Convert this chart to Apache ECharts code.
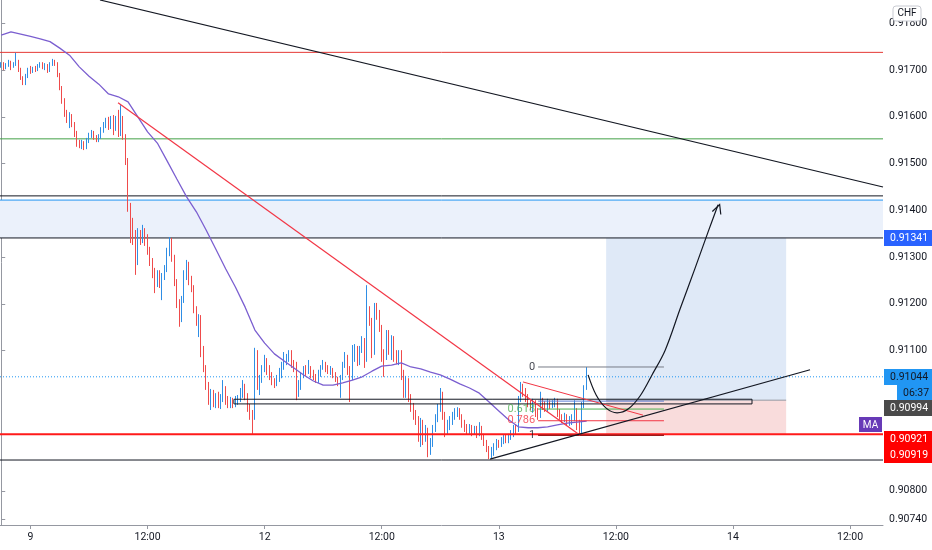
<!DOCTYPE html>
<html><head><meta charset="utf-8">
<script src="https://cdn.jsdelivr.net/npm/echarts@6/dist/echarts.min.js"></script>
<style>html,body{margin:0;padding:0;background:#fff}#c{width:932px;height:550px}</style>
</head><body><div id="c"></div>
<script>
// ---- data (15-minute candles: [open, close, low, high]) ----
const candles = [
[0.91709,0.91713,0.91705,0.91717],[0.91713,0.91707,0.91700,0.91717],[0.91707,0.91711,0.91702,0.91715],[0.91711,0.91715,0.91707,0.91722],
[0.91715,0.91707,0.91700,0.91720],[0.91707,0.91713,0.91705,0.91717],[0.91713,0.91717,0.91709,0.91737],[0.91717,0.91700,0.91696,0.91722],
[0.91700,0.91683,0.91679,0.91705],[0.91683,0.91672,0.91668,0.91687],[0.91672,0.91687,0.91668,0.91692],[0.91687,0.91700,0.91683,0.91705],
[0.91700,0.91696,0.91692,0.91709],[0.91696,0.91702,0.91694,0.91707],[0.91702,0.91700,0.91696,0.91709],[0.91700,0.91707,0.91698,0.91713],
[0.91707,0.91713,0.91705,0.91717],[0.91713,0.91707,0.91702,0.91717],[0.91707,0.91709,0.91700,0.91715],[0.91709,0.91698,0.91694,0.91713],
[0.91698,0.91713,0.91696,0.91717],[0.91713,0.91717,0.91709,0.91724],[0.91717,0.91713,0.91709,0.91722],[0.91713,0.91690,0.91685,0.91717],
[0.91690,0.91662,0.91657,0.91694],[0.91662,0.91636,0.91628,0.91666],[0.91636,0.91608,0.91600,0.91640],[0.91608,0.91593,0.91587,0.91615],
[0.91593,0.91602,0.91576,0.91610],[0.91602,0.91583,0.91578,0.91606],[0.91583,0.91563,0.91557,0.91589],[0.91563,0.91544,0.91536,0.91570],
[0.91544,0.91538,0.91533,0.91551],[0.91538,0.91544,0.91531,0.91551],[0.91544,0.91536,0.91529,0.91548],[0.91536,0.91548,0.91531,0.91555],
[0.91548,0.91559,0.91544,0.91566],[0.91559,0.91566,0.91555,0.91572],[0.91566,0.91555,0.91551,0.91570],[0.91555,0.91551,0.91546,0.91561],
[0.91551,0.91557,0.91546,0.91563],[0.91557,0.91570,0.91553,0.91578],[0.91570,0.91580,0.91566,0.91589],[0.91580,0.91591,0.91576,0.91598],
[0.91591,0.91578,0.91572,0.91600],[0.91578,0.91593,0.91574,0.91602],[0.91593,0.91576,0.91561,0.91604],[0.91576,0.91595,0.91570,0.91602],
[0.91595,0.91583,0.91557,0.91615],[0.91583,0.91598,0.91559,0.91625],[0.91598,0.91559,0.91551,0.91602],[0.91559,0.91508,0.91497,0.91563],
[0.91508,0.91401,0.91397,0.91512],[0.91401,0.91373,0.91330,0.91416],[0.91373,0.91341,0.91326,0.91384],[0.91341,0.91290,0.91262,0.91358],
[0.91290,0.91347,0.91283,0.91362],[0.91347,0.91337,0.91326,0.91358],[0.91337,0.91358,0.91330,0.91369],[0.91358,0.91341,0.91324,0.91362],
[0.91341,0.91315,0.91305,0.91349],[0.91315,0.91290,0.91281,0.91322],[0.91290,0.91268,0.91255,0.91298],[0.91268,0.91251,0.91223,0.91277],
[0.91251,0.91266,0.91236,0.91272],[0.91266,0.91243,0.91234,0.91272],[0.91243,0.91260,0.91208,0.91266],[0.91260,0.91277,0.91251,0.91283],
[0.91277,0.91311,0.91268,0.91320],[0.91311,0.91337,0.91302,0.91343],[0.91337,0.91298,0.91290,0.91341],[0.91298,0.91247,0.91238,0.91305],
[0.91247,0.91204,0.91191,0.91253],[0.91204,0.91170,0.91151,0.91210],[0.91170,0.91208,0.91161,0.91217],[0.91208,0.91262,0.91202,0.91272],
[0.91262,0.91283,0.91251,0.91294],[0.91283,0.91251,0.91240,0.91290],[0.91251,0.91234,0.91225,0.91260],[0.91234,0.91187,0.91180,0.91240],
[0.91187,0.91161,0.91153,0.91195],[0.91161,0.91170,0.91129,0.91178],[0.91170,0.91101,0.91086,0.91176],[0.91101,0.91063,0.91054,0.91110],
[0.91063,0.91026,0.91016,0.91069],[0.91026,0.90999,0.90984,0.91033],[0.90999,0.91012,0.90973,0.91018],[0.91012,0.90990,0.90979,0.91016],
[0.90990,0.91003,0.90977,0.91009],[0.91003,0.90986,0.90977,0.91012],[0.90986,0.90999,0.90975,0.91007],[0.90999,0.91016,0.90990,0.91037],
[0.91016,0.90994,0.90984,0.91024],[0.90994,0.90984,0.90977,0.91003],[0.90984,0.90994,0.90977,0.91001],[0.90994,0.90984,0.90977,0.90999],
[0.90984,0.90994,0.90979,0.91003],[0.90994,0.90999,0.90984,0.91005],[0.90999,0.91012,0.90990,0.91020],[0.91012,0.91024,0.90999,0.91037],
[0.91024,0.91005,0.90994,0.91029],[0.91005,0.90979,0.90969,0.91009],[0.90979,0.90962,0.90952,0.90986],[0.90962,0.90956,0.90922,0.90973],
[0.90956,0.91097,0.90952,0.91106],[0.91097,0.91026,0.91016,0.91101],[0.91026,0.91041,0.91005,0.91048],[0.91041,0.91063,0.91031,0.91069],
[0.91063,0.91080,0.91054,0.91091],[0.91080,0.91054,0.91048,0.91084],[0.91054,0.91044,0.91037,0.91069],[0.91044,0.91033,0.91026,0.91054],
[0.91033,0.91029,0.91020,0.91041],[0.91029,0.91041,0.91024,0.91048],[0.91041,0.91054,0.91033,0.91063],[0.91054,0.91067,0.91041,0.91076],
[0.91067,0.91080,0.91059,0.91097],[0.91080,0.91084,0.91069,0.91093],[0.91084,0.91091,0.91076,0.91101],[0.91091,0.91069,0.91063,0.91101],
[0.91069,0.91063,0.91054,0.91080],[0.91063,0.91016,0.90994,0.91076],[0.91016,0.91026,0.91001,0.91037],[0.91026,0.91048,0.91016,0.91054],
[0.91048,0.91059,0.91041,0.91067],[0.91059,0.91054,0.91046,0.91069],[0.91054,0.91063,0.91050,0.91080],[0.91063,0.91048,0.91041,0.91067],
[0.91048,0.91041,0.91037,0.91059],[0.91041,0.91035,0.91031,0.91050],[0.91035,0.91050,0.91031,0.91059],[0.91050,0.91063,0.91044,0.91069],
[0.91063,0.91071,0.91059,0.91080],[0.91071,0.91063,0.91054,0.91076],[0.91063,0.91054,0.91050,0.91069],[0.91054,0.91059,0.91048,0.91067],
[0.91059,0.91046,0.91041,0.91063],[0.91046,0.91037,0.91033,0.91054],[0.91037,0.91029,0.91024,0.91044],[0.91029,0.91041,0.90999,0.91048],
[0.91041,0.91067,0.91037,0.91076],[0.91067,0.91084,0.91063,0.91097],[0.91084,0.91059,0.91048,0.91091],[0.91059,0.91041,0.90990,0.91067],
[0.91041,0.91084,0.91037,0.91112],[0.91084,0.91101,0.91076,0.91114],[0.91101,0.91076,0.91067,0.91110],[0.91076,0.91101,0.91069,0.91110],
[0.91101,0.91123,0.91095,0.91131],[0.91123,0.91080,0.91063,0.91127],[0.91080,0.91183,0.91076,0.91240],[0.91183,0.91161,0.91153,0.91195],
[0.91161,0.91101,0.91084,0.91170],[0.91101,0.91187,0.91091,0.91202],[0.91187,0.91176,0.91166,0.91202],[0.91176,0.91148,0.91140,0.91187],
[0.91148,0.91091,0.91076,0.91155],[0.91091,0.91084,0.91044,0.91103],[0.91084,0.91138,0.91080,0.91144],[0.91138,0.91097,0.91091,0.91144],
[0.91097,0.91127,0.91080,0.91133],[0.91127,0.91091,0.91076,0.91131],[0.91091,0.91080,0.91071,0.91101],[0.91080,0.91095,0.91069,0.91101],
[0.91095,0.91048,0.91037,0.91101],[0.91048,0.91005,0.90999,0.91059],[0.91005,0.91037,0.90999,0.91046],[0.91037,0.90999,0.90990,0.91041],
[0.90999,0.90977,0.90969,0.91007],[0.90977,0.90962,0.90952,0.90988],[0.90962,0.90952,0.90941,0.90973],[0.90952,0.90926,0.90905,0.90960],
[0.90926,0.90947,0.90894,0.90956],[0.90947,0.90913,0.90898,0.90952],[0.90913,0.90930,0.90905,0.90941],[0.90930,0.90887,0.90872,0.90935],
[0.90887,0.90905,0.90877,0.90913],[0.90905,0.90935,0.90894,0.90941],[0.90935,0.90956,0.90926,0.90964],[0.90956,0.90977,0.90947,0.90986],
[0.90977,0.91005,0.90969,0.91020],[0.91005,0.90962,0.90952,0.91012],[0.90962,0.90930,0.90915,0.90969],[0.90930,0.90941,0.90920,0.90952],
[0.90941,0.90952,0.90930,0.90960],[0.90952,0.90960,0.90941,0.90969],[0.90960,0.90969,0.90952,0.90977],[0.90969,0.90973,0.90958,0.90979],
[0.90973,0.90958,0.90952,0.90977],[0.90958,0.90943,0.90935,0.90964],[0.90943,0.90935,0.90926,0.90952],[0.90935,0.90928,0.90920,0.90943],
[0.90928,0.90937,0.90922,0.90943],[0.90937,0.90926,0.90917,0.90941],[0.90926,0.90935,0.90920,0.90939],[0.90935,0.90924,0.90913,0.90939],
[0.90924,0.90935,0.90917,0.90947],[0.90935,0.90917,0.90909,0.90939],[0.90917,0.90905,0.90896,0.90922],[0.90905,0.90890,0.90883,0.90909],
[0.90890,0.90877,0.90868,0.90896],[0.90877,0.90887,0.90870,0.90894],[0.90887,0.90896,0.90875,0.90902],[0.90896,0.90905,0.90887,0.90911],
[0.90905,0.90898,0.90892,0.90909],[0.90898,0.90909,0.90894,0.90915],[0.90909,0.90913,0.90900,0.90920],[0.90913,0.90909,0.90902,0.90920],
[0.90909,0.90915,0.90902,0.90922],[0.90915,0.90922,0.90909,0.90930],[0.90922,0.90935,0.90915,0.90941],[0.90935,0.90930,0.90920,0.90943],
[0.90930,0.90994,0.90926,0.91003],[0.90994,0.91020,0.90990,0.91033],[0.91020,0.91012,0.91001,0.91029],[0.91012,0.90999,0.90990,0.91020],
[0.90999,0.90986,0.90979,0.91007],[0.90986,0.90977,0.90973,0.90994],[0.90977,0.90990,0.90967,0.90997],[0.90990,0.90969,0.90958,0.90994],
[0.90969,0.90960,0.90952,0.90977],[0.90960,0.90994,0.90956,0.91012],[0.90994,0.90986,0.90973,0.90999],[0.90986,0.90973,0.90969,0.90992],
[0.90973,0.90990,0.90969,0.90997],[0.90990,0.90982,0.90975,0.90994],[0.90982,0.90988,0.90977,0.90994],[0.90988,0.90992,0.90979,0.90999],
[0.90992,0.90969,0.90958,0.90997],[0.90969,0.90956,0.90952,0.90975],[0.90956,0.90949,0.90945,0.90964],[0.90949,0.90960,0.90947,0.90967],
[0.90960,0.90945,0.90939,0.90964],[0.90945,0.90952,0.90939,0.90960],[0.90952,0.90956,0.90941,0.90964],[0.90956,0.90973,0.90949,0.90994],
[0.90973,0.90941,0.90930,0.90977],[0.90941,0.90930,0.90919,0.90952],[0.90930,0.90984,0.90924,0.90990],[0.90984,0.91020,0.90977,0.91026],
[0.91020,0.91044,0.91016,0.91065]
];
// moving average, one reading per hour (every 4th candle)
const maHourly = [0.91775,0.91782,0.91777,0.91772,0.91767,0.91761,0.91747,0.91732,0.91707,0.91687,
0.91670,0.91649,0.91643,0.91632,0.91600,0.91568,0.91544,0.91506,0.91467,0.91429,
0.91397,0.91358,0.91317,0.91275,0.91236,0.91193,0.91144,0.91116,0.91093,0.91078,
0.91063,0.91048,0.91035,0.91026,0.91026,0.91031,0.91037,0.91044,0.91056,0.91067,
0.91069,0.91074,0.91065,0.91061,0.91054,0.91048,0.91039,0.91029,0.91020,0.91009,
0.90990,0.90971,0.90952,0.90937,0.90935,0.90935,0.90937,0.90941,0.90945,0.90947,0.90949];
const priceTicks = [0.9074,0.908,0.911,0.912,0.913,0.914,0.915,0.916,0.917,0.918];
const timeTickMarks = ['00:00','12:00'];
// horizontal levels
const redLevel = 0.91738, greenLevel = 0.91553, blackTopLevel = 0.91431, zoneTop = 0.91422, target = 0.91341;
const lastPrice = 0.91044, entry = 0.90994, stop = 0.90921, pivotLow = 0.90919, blackLowLevel = 0.90866;
// drawings in [slot, price]
const resistanceLong = [[40.5,0.91850],[361.5,0.91450]];
const redTrend = [[47.9,0.91630],[237.3,0.90919]];
const triangleTop = [[213.9,0.91033],[263.1,0.90962]];
const supportLine = [[200.4,0.90868],[331.6,0.91059]];
const projection = [[240.6,0.91048],[243.9,0.91005],[248.0,0.90977],[252.5,0.90967],[257.0,0.90975],[261.9,0.91003],[266.8,0.91048],[272.2,0.91101],[278.3,0.91189],[284.5,0.91277],[289.8,0.91354],[293.9,0.91412]];
const fibSlots = [220.1,271.7], fibHigh = 0.91065, fibLow = 0.90919;
const fibRatios = [0, 0.5, 0.618, 0.786, 1];
const fibColors = ['#787b86','#5b7fd6','#4caf50','#f23645','#9b1c1c'];
const fibLabelShown = ['0', null, '0.618', '0.786', '1'];
const positionSlots = [248.0, 321.8];
const boxSlots = [95.4, 307.8], boxPrices = [0.90996, 0.90986];

// ---- build ----
const SLOTS = 362;
const categories = [];
let t = Date.UTC(2020, 9, 8, 21, 0);
for (let i = 0; i < SLOTS; i++) {
  const d = new Date(t);
  const hh = String(d.getUTCHours()).padStart(2,'0'), mm = String(d.getUTCMinutes()).padStart(2,'0');
  categories.push(d.getUTCDate() + ' ' + hh + ':' + mm);
  t += 15 * 60000;
  const nd = new Date(t);
  if (nd.getUTCDay() === 6 && nd.getUTCHours() === 0 && nd.getUTCMinutes() === 0) t += 2 * 86400000;
}
const isTick = (v) => timeTickMarks.some(m => v.endsWith(' ' + m));

const FONT = 'Roboto, "Liberation Sans", sans-serif';
function seg(data, color, width, z, type) {
  return { type:'line', xAxisIndex:1, yAxisIndex:0, data, symbol:'none', silent:true, z: z || 4,
    lineStyle:{ color, width, type: type || 'solid' }, animation:false };
}
const fibPrice = r => +(fibHigh - r * (fibHigh - fibLow)).toFixed(5);
const XL = -0.5, XR = SLOTS - 0.5;

const series = [];
// areas
series.push({ type:'line', xAxisIndex:1, yAxisIndex:0, z:1, silent:true, symbol:'none', lineStyle:{opacity:0},
  data:[[XL, zoneTop],[XR, target]], animation:false,
  markArea:{ silent:true, animation:false, data:[
    [{xAxis:XL, yAxis:zoneTop, itemStyle:{color:'#ebf1fb'}},{xAxis:XR, yAxis:target}],
    [{xAxis:positionSlots[0], yAxis:target, itemStyle:{color:'#dfe9f7'}},{xAxis:positionSlots[1], yAxis:entry}],
    [{xAxis:positionSlots[0], yAxis:entry, itemStyle:{color:'#f9dcdc'}},{xAxis:positionSlots[1], yAxis:stop}]
  ]}});
// full-width horizontal levels
series.push(seg([[XL,redLevel],[XR,redLevel]], '#e53935', 1, 2));
series.push(seg([[XL,greenLevel],[XR,greenLevel]], '#43a047', 1, 2));
series.push(seg([[XL,blackTopLevel],[XR,blackTopLevel]], '#131722', 1, 2));
series.push(seg([[XL,zoneTop],[XR,zoneTop]], '#2196f3', 1, 2));
series.push(seg([[XL,target],[XR,target]], '#131722', 1, 2));
series.push(seg([[XL,lastPrice],[XR,lastPrice]], '#2196f3', 1, 2, [1,2]));
series.push(seg([[XL,stop],[XR,stop]], '#ff1a1a', 2, 4));
series.push(seg([[XL,blackLowLevel],[XR,blackLowLevel]], '#131722', 1, 2));
// candles
series.push({ type:'candlestick', xAxisIndex:0, yAxisIndex:0, z:3, data:candles.map(c=>[c[0],c[1],c[2],c[3]]),
  barWidth:1, animation:false,
  itemStyle:{ color:'#2f8ee5', color0:'#ef4b4b', borderColor:'#2f8ee5', borderColor0:'#ef4b4b', borderWidth:1 } });
// MA
series.push({ type:'line', xAxisIndex:1, yAxisIndex:0, z:4, silent:true, symbol:'none', animation:false,
  data: maHourly.map((v,k)=>[4*k, v]), lineStyle:{color:'#7b5fd0', width:1.3} });
// box rectangle
series.push(seg([[boxSlots[0],boxPrices[0]],[boxSlots[1],boxPrices[0]],[boxSlots[1],boxPrices[1]],[boxSlots[0],boxPrices[1]],[boxSlots[0],boxPrices[0]]], '#131722', 1, 4));
// position entry line
series.push(seg([[positionSlots[0],entry],[positionSlots[1],entry]], '#9598a1', 1, 2));
// fib levels
fibRatios.forEach((r,i)=>{
  series.push(seg([[fibSlots[0], fibPrice(r)],[fibSlots[1], fibPrice(r)]], fibColors[i], i===4?1.5:1, 4));
});
series.push({ type:'scatter', xAxisIndex:1, yAxisIndex:0, z:5, silent:true, symbolSize:0, animation:false,
  data: fibRatios.map((r,i)=> fibLabelShown[i] ? { value:[fibSlots[0], fibPrice(r)],
    label:{ show:true, position:'left', distance:3, formatter: fibLabelShown[i], color: i===2?'#4caf50':(i===3?'#f23645':'#131722'),
      fontSize:11, fontFamily:FONT } } : null).filter(Boolean) });
// trend lines
series.push(seg(resistanceLong, '#131722', 1.2, 4));
series.push(seg(redTrend, '#f23645', 1.2, 4));
series.push(seg(triangleTop, '#f23645', 1, 4));
series.push(seg(supportLine, '#131722', 1.2, 4));
// projection arrow
const projData = projection.map((p,i)=> i===projection.length-1 ?
  { value:p, symbol:'path://M0,10 L5,0 L10,10', symbolSize:[9,9], symbolRotate:-20, symbolOffset:[0,4],
    itemStyle:{ color:'rgba(0,0,0,0)', borderColor:'#131722', borderWidth:1.2 } } : { value:p, symbol:'none' });
series.push({ type:'line', xAxisIndex:1, yAxisIndex:0, z:5, silent:true, smooth:0.35, animation:false,
  data: projData, showSymbol:true, lineStyle:{color:'#131722', width:1.2} });

const option = {
  animation:false,
  backgroundColor:'#ffffff',
  grid:{ left:0, right:49, top:0, bottom:25, containLabel:false },
  xAxis:[
    { type:'category', data:categories, boundaryGap:true,
      axisLine:{ lineStyle:{ color:'#9598a1' } },
      axisTick:{ show:true, alignWithLabel:true, length:4, interval:(i,v)=>isTick(v), lineStyle:{color:'#9598a1'} },
      axisLabel:{ interval:(i,v)=>isTick(v), margin:7, color:'#131722', fontSize:10.5, fontFamily:FONT,
        formatter:(v)=>{ const p = v.split(' '); return p[1]==='00:00' ? p[0] : p[1]; } },
      splitLine:{ show:false } },
    { type:'value', min:XL, max:XR, show:false }
  ],
  yAxis:[{ type:'value', position:'right', min:0.90727, max:0.9185, scale:true,
    axisLine:{ show:true, lineStyle:{ color:'#9598a1' } },
    axisTick:{ show:true, length:4, customValues:priceTicks, lineStyle:{color:'#9598a1'} },
    axisLabel:{ customValues:priceTicks, margin:6, color:'#131722', fontSize:10.5, fontFamily:FONT,
      formatter:(v)=>v.toFixed(5) },
    splitLine:{ show:false } }],
  series
};
const chart = echarts.init(document.getElementById('c'));
chart.setOption(option);

// axis price tags
const yPx = p => chart.convertToPixel({ yAxisIndex:0 }, p);
function tag(x, w, yc, bg, txt, fg) {
  return [
    { type:'rect', z:100, shape:{ x, y:Math.round(yc-8), width:w, height:16 }, style:{ fill:bg } },
    { type:'text', z:101, x:x+6, y:Math.round(yc), style:{ text:txt, fill:fg, font:'10.5px Roboto, sans-serif', verticalAlign:'middle' } }
  ];
}
const gx = 884, gw = 48;
const lastMA = maHourly[maHourly.length-1];
const graphics = [].concat(
  tag(gx, gw, yPx(target), '#2962ff', target.toFixed(5), '#ffffff'),
  tag(gx, gw, yPx(lastPrice), '#2196f3', lastPrice.toFixed(5), '#131722'),
  tag(gx+13, gw-13, yPx(lastPrice)+16, '#2196f3', '06:37', '#131722'),
  tag(gx, gw, yPx(entry)+7.5, '#4a4a4a', entry.toFixed(5), '#ffffff'),
  tag(gx, gw, yPx(stop)+5, '#ff0000', stop.toFixed(5), '#ffffff'),
  tag(gx, gw, yPx(pivotLow)+20, '#ff0000', pivotLow.toFixed(5), '#ffffff'),
  [
    { type:'rect', z:100, shape:{ x:859, y:Math.round(yPx(lastMA)-4), width:23, height:15 }, style:{ fill:'#673ab7' } },
    { type:'text', z:101, x:870.5, y:Math.round(yPx(lastMA)+3.5), style:{ text:'MA', fill:'#ffffff', font:'10px Roboto, sans-serif', align:'center', verticalAlign:'middle' } },
    { type:'rect', z:100, shape:{ x:893, y:6, width:28, height:15, r:3 }, style:{ fill:'#ffffff', stroke:'#c9cbd2', lineWidth:1 } },
    { type:'text', z:101, x:907, y:13.5, style:{ text:'CHF', fill:'#131722', font:'10px Roboto, sans-serif', align:'center', verticalAlign:'middle' } }
  ]
);
chart.setOption({ graphic: graphics });
</script>
</body></html>
